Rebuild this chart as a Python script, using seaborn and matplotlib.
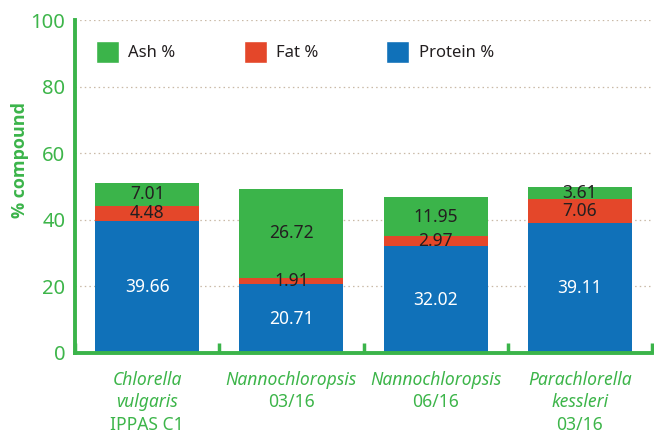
import matplotlib
matplotlib.use("Agg")
import matplotlib.pyplot as plt
import seaborn as sns
import pandas as pd
from matplotlib.patches import Patch

# ---- data ----
italic_names = ["Chlorella\nvulgaris", "Nannochloropsis", "Nannochloropsis", "Parachlorella\nkessleri"]
plain_names = ["IPPAS C1", "03/16", "06/16", "03/16"]
categories = ["C. vulgaris IPPAS C1", "Nannochloropsis 03/16", "Nannochloropsis 06/16", "P. kessleri 03/16"]
protein = [39.66, 20.71, 32.02, 39.11]
fat = [4.48, 1.91, 2.97, 7.06]
ash = [7.01, 26.72, 11.95, 3.61]
series_names = ["Ash %", "Fat %", "Protein %"]
y_ticks = [0, 20, 40, 60, 80, 100]

GREEN = "#3BB44A"
RED = "#E4472A"
BLUE = "#1071B9"
DARK = "#231F20"
TICKGREEN = "#3DB54A"

sns.set_theme(style="white")
plt.rcParams["font.family"] = ["Noto Sans", "DejaVu Sans"]

df = pd.DataFrame({"cat": categories, "protein": protein, "fat": fat, "ash": ash})
df["pf"] = df["protein"] + df["fat"]
df["total"] = df["pf"] + df["ash"]

fig = plt.figure(figsize=(6.54, 4.33), dpi=100)
ax = fig.add_axes([75 / 654, 1 - 353 / 433, 577 / 654, 333 / 433])

bw = 0.72
common = dict(saturation=1, width=bw, ax=ax, linewidth=0, edgecolor="none")
sns.barplot(data=df, x="cat", y="total", color=GREEN, zorder=2, **common)
sns.barplot(data=df, x="cat", y="pf", color=RED, zorder=3, **common)
sns.barplot(data=df, x="cat", y="protein", color=BLUE, zorder=4, **common)

# value labels
for i in range(len(categories)):
    p, f, a = protein[i], fat[i], ash[i]
    ax.text(i, p / 2, f"{p:.2f}", ha="center", va="center", color="white", fontsize=12.5, zorder=6)
    ax.text(i, p + f / 2, f"{f:.2f}", ha="center", va="center", color=DARK, fontsize=12.5, zorder=6)
    ax.text(i, p + f + a / 2, f"{a:.2f}", ha="center", va="center", color=DARK, fontsize=12.5, zorder=6)

ax.set_xlim(-0.5, len(categories) - 0.5)
ax.set_ylim(0, 100)
ax.set_yticks(y_ticks)
ax.set_yticklabels([str(t) for t in y_ticks], color=TICKGREEN, fontsize=14.5)
ax.tick_params(axis="y", length=0, pad=7)

# gridlines
for t in y_ticks[1:]:
    ax.axhline(t, color="#C9B9A6", lw=0.9, ls=(0, (1.2, 2.5)), zorder=1)

# x ticks at category boundaries
ax.set_xticks([i - 0.5 for i in range(len(categories) + 1)])
ax.set_xticklabels([])
ax.tick_params(axis="x", direction="in", length=7, width=2.5, color=GREEN, bottom=True)
ax.set_xlabel("")

# category labels
for i in range(len(categories)):
    lines = italic_names[i].split("\n")
    for j, ln in enumerate(lines):
        ax.annotate(ln, xy=(i, 0), xycoords=("data", "axes fraction"), xytext=(0, -19.4 - 16.2 * j),
                    textcoords="offset points", ha="center", va="center", color=TICKGREEN,
                    fontsize=12.6, style="italic")
    ax.annotate(plain_names[i], xy=(i, 0), xycoords=("data", "axes fraction"),
                xytext=(0, -19.4 - 16.2 * len(lines)), textcoords="offset points",
                ha="center", va="center", color=TICKGREEN, fontsize=12.6)

ax.set_ylabel("% compound", color=GREEN, fontsize=13, fontweight="bold",
              family=["Open Sans", "DejaVu Sans"])
ax.yaxis.set_label_coords(-0.08, 0.58)

for s in ["top", "right"]:
    ax.spines[s].set_visible(False)
for s in ["left", "bottom"]:
    ax.spines[s].set_color(GREEN)
    ax.spines[s].set_linewidth(2.8)
    ax.spines[s].set_zorder(7)

handles = [Patch(facecolor=GREEN), Patch(facecolor=RED), Patch(facecolor=BLUE)]
leg = ax.legend(handles, series_names, loc="upper left", bbox_to_anchor=(0.036, 0.937), ncol=3,
                frameon=False, fontsize=12, handlelength=1.38, handleheight=1.67,
                handletextpad=0.55, columnspacing=4.1, labelcolor=DARK,
                borderpad=0, borderaxespad=0)

fig.savefig("out.png", dpi=100)
